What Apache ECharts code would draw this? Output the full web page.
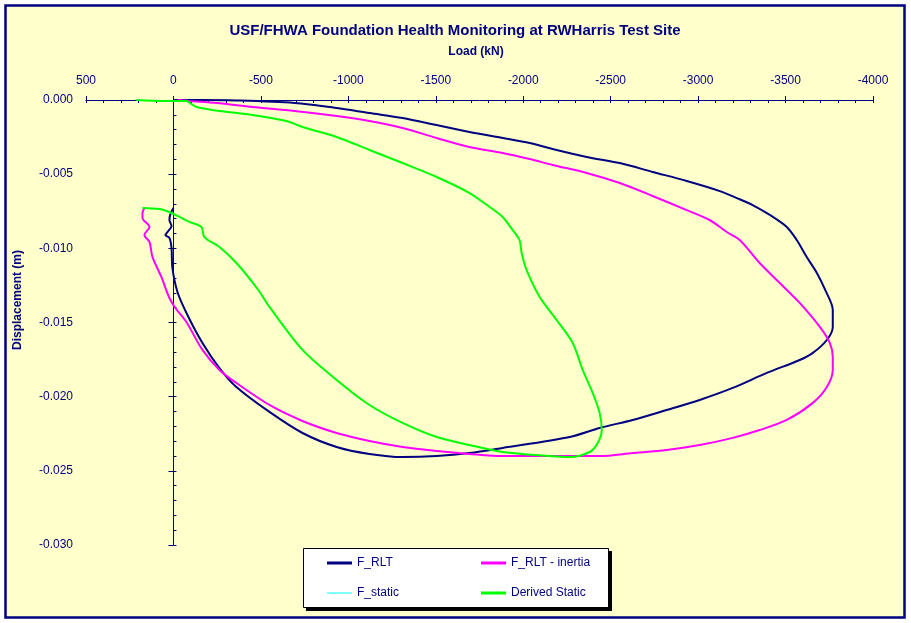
<!DOCTYPE html>
<html>
<head>
<meta charset="utf-8">
<script src="https://cdn.jsdelivr.net/npm/echarts@6/dist/echarts.min.js"></script>
<style>html,body{margin:0;padding:0;background:#fff;}#c{width:911px;height:623px;}</style>
</head>
<body>
<div id="c"></div>
<script>
// Tick values
var loadTicks = [500, 0, -500, -1000, -1500, -2000, -2500, -3000, -3500, -4000];
var dispTicks = [0, -0.005, -0.010, -0.015, -0.020, -0.025, -0.030];

// F_RLT (kN, m)
var rltLoad = [0, -149, -360, -692, -933, -1121, -1310, -1505, -1693, -1882, -2037, -2168, -2363, -2552, -2740, -2935, -3124, -3221, -3312, -3410, -3507, -3564, -3621, -3679, -3724, -3770, -3770, -3736, -3656, -3581, -3393, -3198, -3009, -2820, -2626, -2437, -2266, -1882, -1693, -1505, -1310, -1121, -933, -738, -549, -360, -263, -166, -80, -23, 6, 11, 23, 46, 34, 11, 23, 17, 0];
var rltDisp = [0, 0, -0.00003, -0.0002, -0.00054, -0.00088, -0.00121, -0.00169, -0.00216, -0.00256, -0.0029, -0.0033, -0.00384, -0.00425, -0.00485, -0.00546, -0.00614, -0.00661, -0.00708, -0.00775, -0.00856, -0.00944, -0.01058, -0.01166, -0.01274, -0.01416, -0.0153, -0.01618, -0.01705, -0.01753, -0.0184, -0.01941, -0.02022, -0.0209, -0.02157, -0.02211, -0.02272, -0.02346, -0.0238, -0.024, -0.02407, -0.02386, -0.02339, -0.02245, -0.02103, -0.01935, -0.01807, -0.01638, -0.01449, -0.01294, -0.01132, -0.00998, -0.0093, -0.0091, -0.0089, -0.00849, -0.00809, -0.00768, -0.00728];

// F_RLT - inertia
var inertiaLoad = [-23, -92, -246, -452, -692, -933, -1121, -1310, -1505, -1693, -1882, -2037, -2168, -2363, -2552, -2740, -2935, -3066, -3164, -3238, -3352, -3467, -3581, -3696, -3753, -3770, -3770, -3736, -3656, -3507, -3352, -3198, -3009, -2820, -2626, -2437, -2266, -1882, -1693, -1505, -1310, -1121, -933, -738, -549, -360, -263, -166, -74, -11, 23, 69, 120, 137, 166, 137, 177, 177, 166];
var inertiaDisp = [0, -0.00007, -0.0002, -0.00047, -0.00074, -0.00108, -0.00142, -0.00189, -0.00256, -0.00317, -0.00357, -0.00398, -0.00438, -0.00492, -0.0056, -0.00647, -0.00742, -0.00809, -0.0089, -0.00944, -0.01099, -0.01234, -0.01368, -0.0153, -0.01638, -0.01732, -0.0182, -0.01935, -0.02042, -0.02157, -0.02225, -0.02278, -0.02326, -0.02359, -0.0238, -0.024, -0.024, -0.024, -0.02386, -0.02366, -0.02339, -0.02299, -0.02245, -0.02164, -0.02056, -0.01908, -0.0182, -0.01685, -0.01497, -0.01402, -0.01335, -0.01193, -0.01058, -0.00957, -0.0091, -0.00856, -0.00795, -0.00762, -0.00728];

// F_static (no visible data)
var staticLoad = [];
var staticDisp = [];

// Derived Static
var derivedLoad = [212, 51, -74, -103, -132, -263, -452, -646, -738, -933, -1121, -1310, -1505, -1693, -1808, -1882, -1939, -1979, -1991, -2019, -2094, -2191, -2283, -2340, -2397, -2437, -2449, -2426, -2380, -2266, -2151, -1882, -1693, -1505, -1310, -1121, -933, -738, -549, -481, -360, -263, -177, -160, -92, 11, 80, 177];
var derivedDisp = [0, -0.00007, -0.00007, -0.00027, -0.00047, -0.00074, -0.00101, -0.00142, -0.00182, -0.00249, -0.00337, -0.00425, -0.00519, -0.00627, -0.00721, -0.00789, -0.00876, -0.00944, -0.01031, -0.01146, -0.01328, -0.01483, -0.01638, -0.0182, -0.01975, -0.0211, -0.02225, -0.02312, -0.02373, -0.02407, -0.024, -0.02373, -0.02326, -0.02272, -0.02177, -0.02056, -0.01887, -0.01685, -0.01395, -0.01274, -0.01099, -0.00991, -0.00924, -0.00856, -0.00822, -0.00762, -0.00735, -0.00728];

var seriesNames = ['F_RLT', 'F_RLT - inertia', 'F_static', 'Derived Static'];
var seriesColors = ['#000080', '#FF00FF', '#00FFFF', '#00FF00'];

function zip(a, b) { var r = []; for (var i = 0; i < a.length; i++) r.push([a[i], b[i]]); return r; }

var NAVY = '#000080';
var FONT = 'Liberation Sans, Arial, sans-serif';
var chart = echarts.init(document.getElementById('c'), null, { renderer: 'canvas' });

var xMin = Math.min.apply(null, loadTicks), xMax = Math.max.apply(null, loadTicks);
var yMin = Math.min.apply(null, dispTicks), yMax = Math.max.apply(null, dispTicks);

function legendItem(name, left, top, h) {
  return {
    data: [name], left: left, top: top, orient: 'horizontal', padding: 0,
    icon: 'rect', itemWidth: 25, itemHeight: h, selectedMode: false,
    textStyle: { color: NAVY, fontSize: 12, fontFamily: FONT }
  };
}

function lineSeries(i, load, disp, w) {
  return { name: seriesNames[i], type: 'line', color: seriesColors[i], data: zip(load, disp),
    showSymbol: false, symbol: 'none', smooth: 0.3, lineStyle: { width: w, color: seriesColors[i] },
    xAxisIndex: 0, yAxisIndex: 0 };
}

var option = {
  backgroundColor: '#ffffff',
  animation: false,
  grid: { left: 86, right: 38, top: 100, bottom: 78, containLabel: false, outerBoundsMode: 'none' },
  graphic: { elements: [
    { type: 'rect', z: -10, shape: { x: 5.5, y: 5.5, width: 899, height: 612 }, style: { fill: '#FFFFCC', stroke: NAVY, lineWidth: 2.5 } },
    { type: 'text', x: 455, y: 31, style: { text: 'USF/FHWA Foundation Health Monitoring at RWHarris Test Site', fill: NAVY, font: 'bold 15px ' + FONT, textAlign: 'center', textVerticalAlign: 'middle' } },
    { type: 'text', x: 476, y: 52, style: { text: 'Load (kN)', fill: NAVY, font: 'bold 12px ' + FONT, textAlign: 'center', textVerticalAlign: 'middle' } },
    { type: 'text', x: 18, y: 300, rotation: Math.PI / 2, style: { text: 'Displacement (m)', fill: NAVY, font: 'bold 12px ' + FONT, textAlign: 'center', textVerticalAlign: 'middle' } },
    { type: 'rect', z: 1, shape: { x: 306, y: 551, width: 306, height: 60 }, style: { fill: '#000000' } },
    { type: 'rect', z: 2, shape: { x: 303.5, y: 548.5, width: 305, height: 59 }, style: { fill: '#ffffff', stroke: '#000000', lineWidth: 1 } }
  ]},
  legend: [
    legendItem(seriesNames[0], 327, 557, 3),
    legendItem(seriesNames[1], 481, 557, 3),
    legendItem(seriesNames[2], 327, 587, 1),
    legendItem(seriesNames[3], 481, 587, 3)
  ],
  xAxis: [
    { type: 'value', position: 'top', inverse: true, min: xMin, max: xMax, interval: 500,
      axisLine: { show: true, onZero: false, lineStyle: { color: NAVY, width: 1 } },
      axisTick: { show: true, inside: false, length: 4, lineStyle: { color: NAVY } },
      minorTick: { show: false },
      axisLabel: { show: true, margin: 13, color: NAVY, fontSize: 12, fontFamily: FONT, showMinLabel: true, showMaxLabel: true, formatter: function (v) { return String(v); } },
      splitLine: { show: false } },
    { type: 'value', position: 'top', inverse: true, min: xMin, max: xMax, interval: 500,
      axisLine: { show: false, onZero: false },
      axisTick: { show: true, inside: true, length: 3, lineStyle: { color: NAVY } },
      minorTick: { show: true, splitNumber: 5, length: 3, lineStyle: { color: NAVY } },
      axisLabel: { show: false }, splitLine: { show: false } }
  ],
  yAxis: [
    { type: 'value', position: 'left', min: yMin, max: yMax, interval: 0.005,
      axisLine: { show: false, onZero: false }, axisTick: { show: false },
      axisLabel: { show: true, margin: 13, color: NAVY, fontSize: 12, fontFamily: FONT, showMinLabel: true, showMaxLabel: true, formatter: function (v) { return v.toFixed(3); } },
      splitLine: { show: false } },
    { type: 'value', position: 'left', min: yMin, max: yMax, interval: 0.005,
      axisLine: { show: true, onZero: true, onZeroAxisIndex: 0, lineStyle: { color: NAVY, width: 1 } },
      axisTick: { show: true, inside: false, length: 5, lineStyle: { color: NAVY } },
      axisLabel: { show: false }, splitLine: { show: false } },
    { type: 'value', position: 'left', min: yMin, max: yMax, interval: 0.005,
      axisLine: { show: false, onZero: true, onZeroAxisIndex: 0 },
      axisTick: { show: true, inside: true, length: 3, lineStyle: { color: NAVY } },
      minorTick: { show: true, splitNumber: 5, length: 3, lineStyle: { color: NAVY } },
      axisLabel: { show: false }, splitLine: { show: false } }
  ],
  series: [
    lineSeries(0, rltLoad, rltDisp, 2),
    lineSeries(1, inertiaLoad, inertiaDisp, 2),
    lineSeries(2, staticLoad, staticDisp, 1),
    lineSeries(3, derivedLoad, derivedDisp, 2)
  ]
};
chart.setOption(option);
</script>
</body>
</html>
